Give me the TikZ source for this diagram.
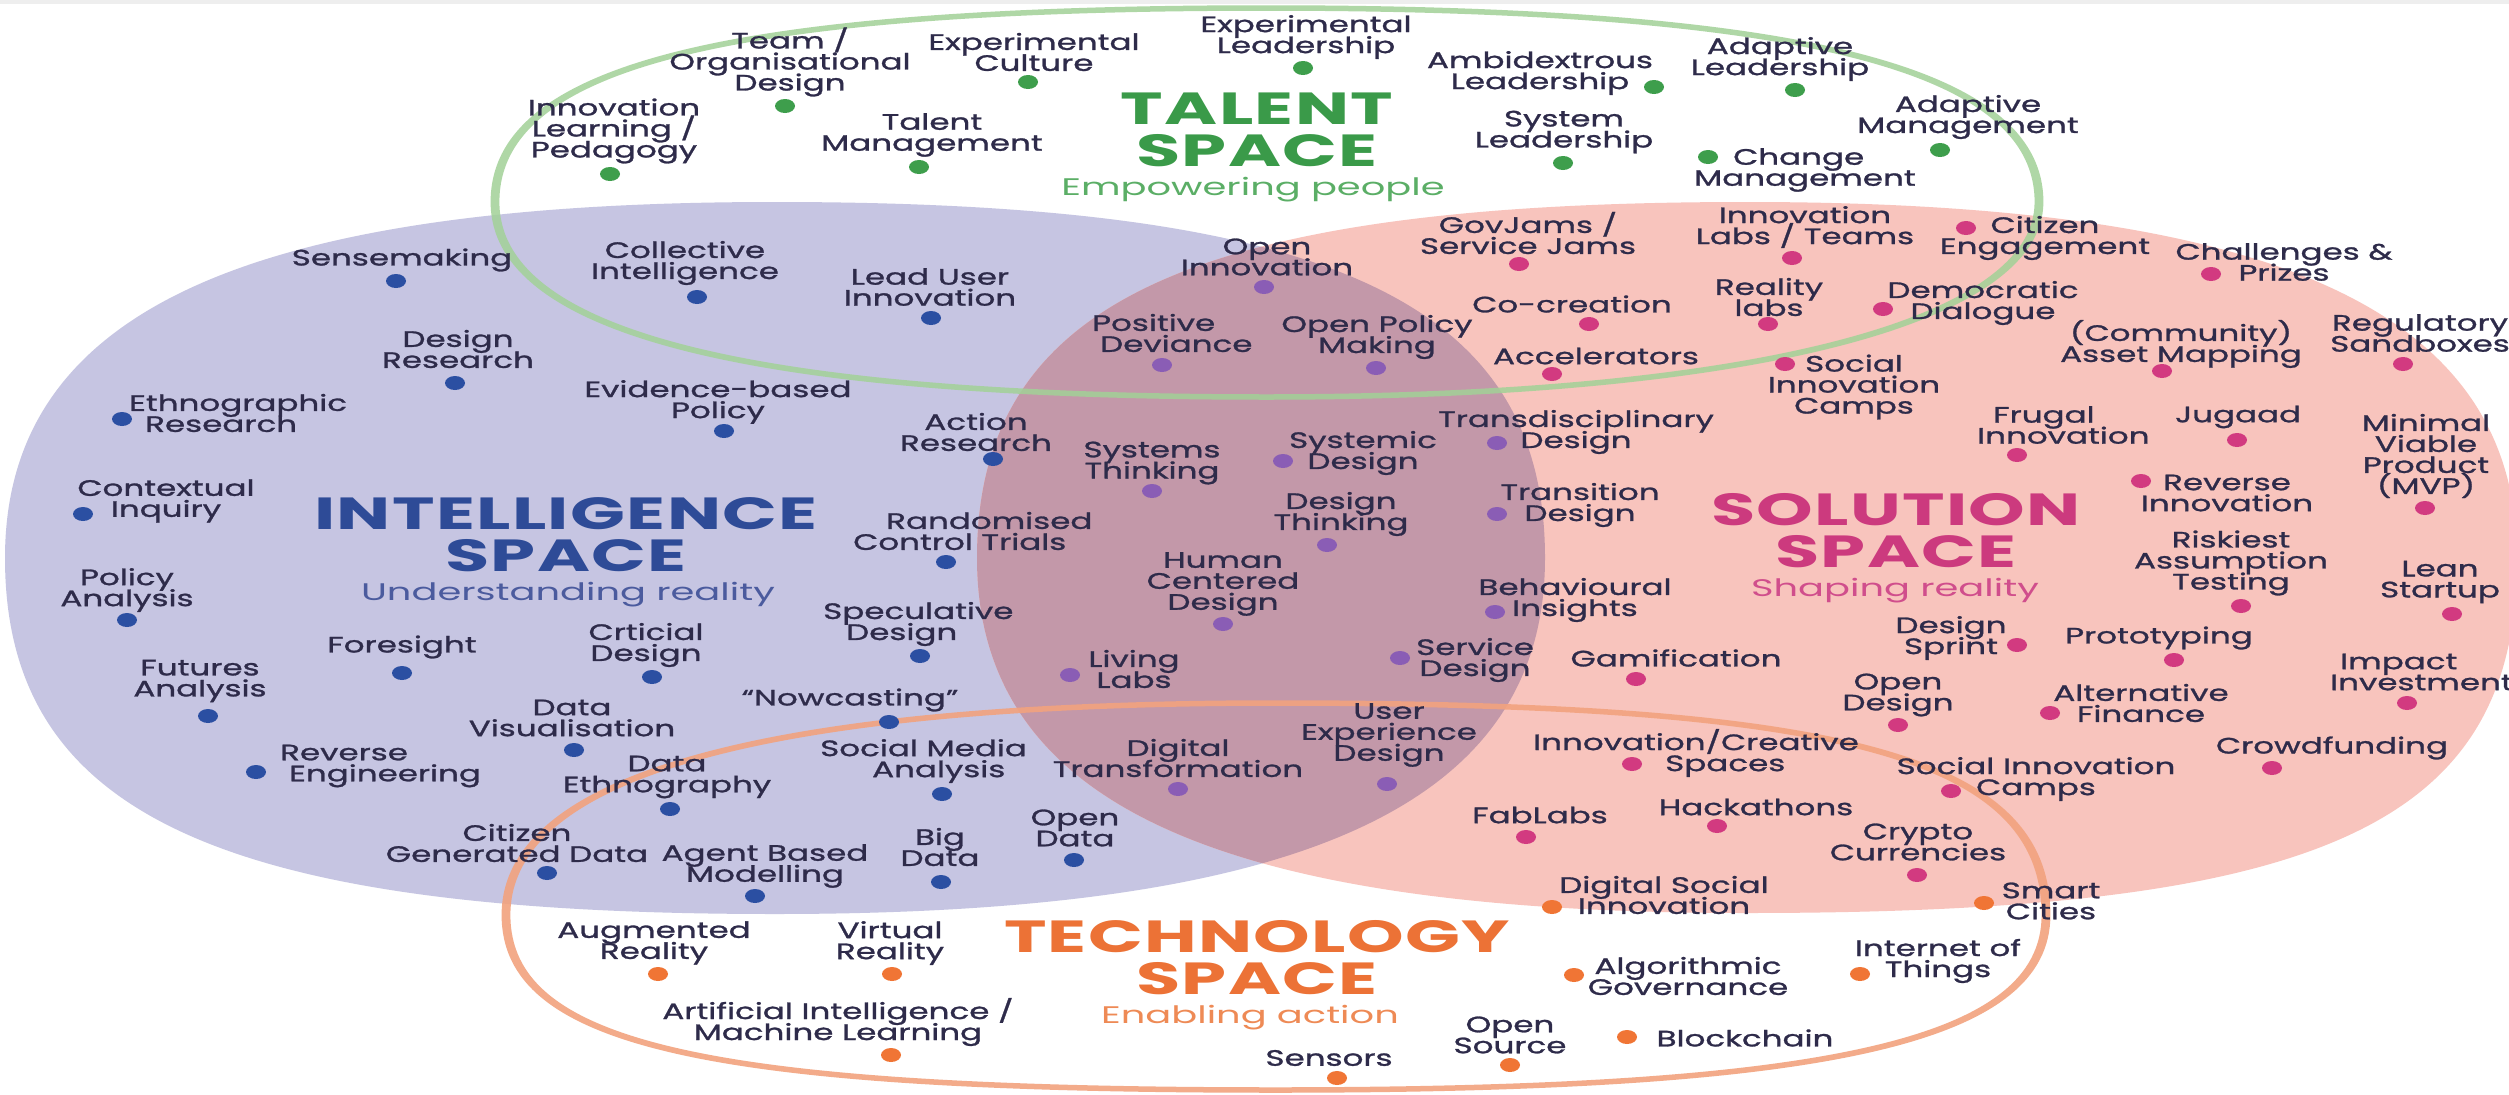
\documentclass[tikz,border=0pt]{standalone}
\usepackage{fontspec}
\newfontfamily\labfont{Poppins}[FakeStretch=1.46, FakeBold=1.2]
\newfontfamily\ttlfont{Poppins}[FakeStretch=1.6, LetterSpace=3]
\newfontfamily\subfont{Poppins}[FakeStretch=1.6]
\usetikzlibrary{shapes.geometric}
\definecolor{txt}{HTML}{2E2B4A}
\definecolor{lavfill}{HTML}{C6C5E2}
\definecolor{pinkfill}{HTML}{F8C4BD}
\definecolor{ovfill}{HTML}{C398A9}
\definecolor{gline}{HTML}{A2D197}
\definecolor{oline}{HTML}{F2A27E}
\definecolor{dblue}{HTML}{2B4FA2}
\definecolor{dgreen}{HTML}{3E9E4C}
\definecolor{dmag}{HTML}{D23A80}
\definecolor{dpurp}{HTML}{8A5DB5}
\definecolor{dorange}{HTML}{F07535}
\definecolor{cblue}{HTML}{2E4B97}
\definecolor{cgreen}{HTML}{3A9A49}
\definecolor{cmag}{HTML}{CC3A7E}
\definecolor{corange}{HTML}{EC7236}
\definecolor{sblue}{HTML}{4B5B9E}
\definecolor{sgreen}{HTML}{5BAE66}
\definecolor{smag}{HTML}{D04E8C}
\definecolor{sorange}{HTML}{EE8A55}
\definecolor{topband}{HTML}{EEEEEE}
\tikzset{
  blob/.style n args={9}{insert path={
    (#1+#3,#2) .. controls (#1+#3,#2+#8*#5) and (#1+#8*#3,#2+#5) .. (#1,#2+#5)
    .. controls (#1-#9*#3,#2+#5) and (#1-#3,#2+#9*#5) .. (#1-#3,#2)
    .. controls (#1-#3,#2-#6*#4) and (#1-#6*#3,#2-#4) .. (#1,#2-#4)
    .. controls (#1+#7*#3,#2-#4) and (#1+#3,#2-#7*#4) .. cycle}},
  lab/.style={font=\labfont\fontsize{22.3}{21}\selectfont, text=txt, inner sep=0pt, align=center},
  labl/.style={lab, align=left, anchor=west},
  ttl/.style={font=\ttlfont\bfseries\fontsize{45}{42}\selectfont, inner sep=0pt, align=center},
  sub/.style={font=\subfont\fontsize{24}{24}\selectfont, inner sep=0pt},
  dot/.style={ellipse, minimum width=20pt, minimum height=14pt, inner sep=0pt, draw=none},
  bd/.style={dot, fill=dblue},
  gd/.style={dot, fill=dgreen},
  md/.style={dot, fill=dmag},
  pd/.style={dot, fill=dpurp},
  od/.style={dot, fill=dorange},
}
\begin{document}
\lineskiplimit=-30pt
\begin{tikzpicture}[x=1pt,y=-1pt]
\useasboundingbox (0,0) rectangle (2509,1095);
\fill[white] (0,0) rectangle (2509,1095);
\fill[topband] (0,0) rectangle (2509,4);
% regions
\fill[lavfill, blob={775}{558}{770}{356}{356}{0.69}{0.72}{0.69}{0.72}];
\fill[pinkfill, blob={1747}{558}{770}{356}{355}{0.72}{0.69}{0.75}{0.69}];
\begin{scope}
  \clip[blob={775}{558}{770}{356}{356}{0.69}{0.72}{0.69}{0.72}];
  \fill[ovfill, blob={1747}{558}{770}{356}{355}{0.72}{0.69}{0.75}{0.69}];
\end{scope}
\begin{scope}[transform canvas={xscale=1.6}]
  \draw[gline, line width=5.5pt, draw opacity=0.85, blob={1267/1.6}{202}{772/1.6}{194}{195}{0.70}{0.69}{0.62}{0.67}];
  \draw[oline, line width=5.5pt, draw opacity=0.9, blob={1276/1.6}{915}{770/1.6}{212}{175}{0.66}{0.74}{0.72}{0.74}];
\end{scope}
% titles
\node[ttl, text=cgreen] (talT) at (1257,130) {TALENT\\SPACE};
\node[sub, text=sgreen] (talS) at (1253,190) {Empowering people};
\node[ttl, text=cblue] (intT) at (566,535) {INTELLIGENCE\\SPACE};
\node[sub, text=sblue] (intS) at (568,595) {Understanding reality};
\node[ttl, text=cmag] (solT) at (1896,531) {SOLUTION\\SPACE};
\node[sub, text=smag] (solS) at (1895,591) {Shaping reality};
\node[ttl, text=corange] (tecT) at (1257,958) {TECHNOLOGY\\SPACE};
\node[sub, text=sorange] (tecS) at (1250,1018) {Enabling action};
% talent
\node[lab] (t1) at (790,62) {Team /\\Organisational\\Design}; \node[gd] (t1d) at (785,106) {};
\node[lab] (t2) at (1034,52) {Experimental\\Culture}; \node[gd] (t2d) at (1028,82) {};
\node[lab] (t3) at (1306,37) {Experimental\\Leadership}; \node[gd] (t3d) at (1303,68) {};
\node[lab] (t4) at (1540,73) {Ambidextrous\\Leadership}; \node[gd] (t4d) at (1654,87) {};
\node[lab] (t5) at (1780,59) {Adaptive\\Leadership}; \node[gd] (t5d) at (1795,90) {};
\node[lab] (t6) at (1968,117) {Adaptive\\Management}; \node[gd] (t6d) at (1940,150) {};
\node[labl] (t7) at (1694,170) {\hspace*{39pt}Change\\Management}; \node[gd] (t7d) at (1708,157) {};
\node[lab] (t8) at (1564,132) {System\\Leadership}; \node[gd] (t8d) at (1563,163) {};
\node[lab] (t9) at (932,135) {Talent\\Management}; \node[gd] (t9d) at (919,167) {};
\node[lab] (t10) at (614,131) {Innovation\\Learning /\\Pedagogy}; \node[gd] (t10d) at (610,174) {};
% intelligence
\node[lab] (i1) at (402,260) {Sensemaking}; \node[bd] (i1d) at (396,281) {};
\node[lab] (i2) at (685,263) {Collective\\Intelligence}; \node[bd] (i2d) at (697,297) {};
\node[lab] (i3) at (458,349) {Design\\Research}; \node[bd] (i3d) at (455,383) {};
\node[labl] (i4) at (129,413) {Ethnographic\\\hspace*{16pt}Research}; \node[bd] (i4d) at (122,419) {};
\node[lab] (i5) at (718,402) {Evidence-based\\Policy}; \node[bd] (i5d) at (724,431) {};
\node[lab] (i6) at (166,501) {Contextual\\Inquiry}; \node[bd] (i6d) at (83,514) {};
\node[lab] (i7) at (127,590) {Policy\\Analysis}; \node[bd] (i7d) at (127,620) {};
\node[lab] (i8) at (402,647) {Foresight}; \node[bd] (i8d) at (402,673) {};
\node[lab] (i9) at (646,645) {Crticial\\Design}; \node[bd] (i9d) at (652,677) {};
\node[lab] (i10) at (200,681) {Futures\\Analysis}; \node[bd] (i10d) at (208,716) {};
\node[lab] (i11) at (572,718) {Data\\Visualisation}; \node[bd] (i11d) at (574,750) {};
\node[lab] (i12) at (850,700) {“Nowcasting”}; \node[bd] (i12d) at (889,722) {};
\node[labl] (i13) at (280,766) {Reverse\\\hspace*{9pt}Engineering}; \node[bd] (i13d) at (256,772) {};
\node[lab] (i14) at (667,777) {Data\\Ethnography}; \node[bd] (i14d) at (670,809) {};
\node[lab] (i15) at (517,843) {Citizen\\Generated Data}; \node[bd] (i15d) at (547,873) {};
\node[lab] (i16) at (765,866) {Agent Based\\Modelling}; \node[bd] (i16d) at (755,896) {};
\node[labl] (i17) at (820,761) {Social Media\\\hspace*{52pt}Analysis}; \node[bd] (i17d) at (942,794) {};
\node[lab] (i18) at (940,847) {Big\\Data}; \node[bd] (i18d) at (941,882) {};
\node[lab] (i19) at (1075,828) {Open\\Data}; \node[bd] (i19d) at (1074,860) {};
\node[lab] (i20) at (976,432) {Action\\Research}; \node[bd] (i20d) at (993,459) {};
\node[labl] (i21) at (853,531) {\hspace*{33pt}Randomised\\Control Trials}; \node[bd] (i21d) at (946,562) {};
\node[labl] (i22) at (823,624) {Speculative\\\hspace*{23pt}Design}; \node[bd] (i22d) at (920,656) {};
\node[lab] (i23) at (930,287) {Lead User\\Innovation}; \node[bd] (i23d) at (931,318) {};
% overlap
\node[lab] (o1) at (1267,257) {Open\\Innovation}; \node[pd] (o1d) at (1264,287) {};
\node[labl] (o2) at (1092,333) {Positive\\\hspace*{8pt}Deviance}; \node[pd] (o2d) at (1162,365) {};
\node[lab] (o3) at (1377,337) {Open Policy\\Making}; \node[pd] (o3d) at (1376,368) {};
\node[lab] (o4) at (1152,463) {Systems\\Thinking}; \node[pd] (o4d) at (1152,491) {};
\node[lab] (o5) at (1363,453) {Systemic\\Design}; \node[pd] (o5d) at (1283,461) {};
\node[lab] (o6) at (1341,514) {Design\\Thinking}; \node[pd] (o6d) at (1327,545) {};
\node[lab] (o7) at (1223,584) {Human\\Centered\\Design}; \node[pd] (o7d) at (1223,624) {};
\node[lab] (o8) at (1576,432) {Transdisciplinary\\Design}; \node[pd] (o8d) at (1497,443) {};
\node[lab] (o9) at (1580,505) {Transition\\Design}; \node[pd] (o9d) at (1497,514) {};
\node[lab] (o10) at (1575,600) {Behavioural\\Insights}; \node[pd] (o10d) at (1495,612) {};
\node[lab] (o11) at (1475,660) {Service\\Design}; \node[pd] (o11d) at (1400,658) {};
\node[lab] (o12) at (1134,669) {Living\\Labs}; \node[pd] (o12d) at (1070,675) {};
\node[lab] (o13) at (1178,758) {Digital\\Transformation}; \node[pd] (o13d) at (1178,789) {};
\node[lab] (o14) at (1389,735) {User\\Experience\\Design}; \node[pd] (o14d) at (1387,784) {};
% solution
\node[lab] (s1) at (1528,233) {GovJams /\\Service Jams}; \node[md] (s1d) at (1519,264) {};
\node[lab] (s2) at (1572,304) {Co-creation}; \node[md] (s2d) at (1589,324) {};
\node[lab] (s3) at (1596,356) {Accelerators}; \node[md] (s3d) at (1552,374) {};
\node[lab] (s4) at (1805,227) {Innovation\\Labs / Teams}; \node[md] (s4d) at (1792,258) {};
\node[lab] (s5) at (2045,238) {Citizen\\Engagement}; \node[md] (s5d) at (1966,228) {};
\node[lab] (s6) at (2284,262) {Challenges \&\\Prizes}; \node[md] (s6d) at (2211,274) {};
\node[lab] (s7) at (1769,297) {Reality\\labs}; \node[md] (s7d) at (1768,324) {};
\node[lab] (s8) at (1983,303) {Democratic\\Dialogue}; \node[md] (s8d) at (1883,309) {};
\node[lab] (s9) at (2181,344) {(Community)\\Asset Mapping}; \node[md] (s9d) at (2162,371) {};
\node[lab] (s10) at (2420,333) {Regulatory\\Sandboxes}; \node[md] (s10d) at (2403,364) {};
\node[lab] (s11) at (1854,387) {Social\\Innovation\\Camps}; \node[md] (s11d) at (1785,364) {};
\node[labl] (s12) at (1977,425) {\hspace*{16pt}Frugal\\Innovation}; \node[md] (s12d) at (2017,455) {};
\node[lab] (s13) at (2238,417) {Jugaad}; \node[md] (s13d) at (2237,440) {};
\node[lab] (s14) at (2426,456) {Minimal\\Viable\\Product\\(MVP)}; \node[md] (s14d) at (2425,508) {};
\node[lab] (s15) at (2227,493) {Reverse\\Innovation}; \node[md] (s15d) at (2141,481) {};
\node[lab] (s16) at (2231,563) {Riskiest\\Assumption\\Testing}; \node[md] (s16d) at (2241,606) {};
\node[lab] (s17) at (2440,582) {Lean\\Startup}; \node[md] (s17d) at (2452,614) {};
\node[lab] (s18) at (1951,638) {Design\\Sprint}; \node[md] (s18d) at (2017,645) {};
\node[lab] (s19) at (2159,638) {Prototyping}; \node[md] (s19d) at (2174,660) {};
\node[labl] (s20) at (2330,672) {\hspace*{10pt}Impact\\Investment}; \node[md] (s20d) at (2407,703) {};
\node[lab] (s21) at (1898,695) {Open\\Design}; \node[md] (s21d) at (1898,725) {};
\node[lab] (s22) at (2141,703) {Alternative\\Finance}; \node[md] (s22d) at (2050,713) {};
\node[lab] (s23) at (1676,658) {Gamification}; \node[md] (s23d) at (1636,679) {};
\node[lab] (s24) at (2332,748) {Crowdfunding}; \node[md] (s24d) at (2272,768) {};
\node[lab] (s25) at (2036,779) {Social Innovation\\Camps}; \node[md] (s25d) at (1951,791) {};
\node[labl] (s26) at (1533,753) {Innovation/Creative\\\hspace*{132pt}Spaces}; \node[md] (s26d) at (1632,764) {};
\node[lab] (s27) at (1540,815) {FabLabs}; \node[md] (s27d) at (1526,837) {};
\node[lab] (s28) at (1756,807) {Hackathons}; \node[md] (s28d) at (1717,826) {};
\node[lab] (s29) at (1918,842) {Crypto\\Currencies}; \node[md] (s29d) at (1917,875) {};
% technology
\node[lab] (e1) at (1664,895) {Digital Social\\Innovation}; \node[od] (e1d) at (1552,907) {};
\node[lab] (e2) at (2051,901) {Smart\\Cities}; \node[od] (e2d) at (1984,903) {};
\node[lab] (e3) at (1938,961) {Internet of\\Things}; \node[od] (e3d) at (1860,974) {};
\node[lab] (e4) at (1688,976) {Algorithmic\\Governance}; \node[od] (e4d) at (1574,975) {};
\node[lab] (e5) at (1745,1038) {Blockchain}; \node[od] (e5d) at (1627,1037) {};
\node[lab] (e6) at (1510,1035) {Open\\Source}; \node[od] (e6d) at (1510,1065) {};
\node[lab] (e7) at (1329,1058) {Sensors}; \node[od] (e7d) at (1337,1078) {};
\node[lab] (e8) at (890,943) {Virtual\\Reality}; \node[od] (e8d) at (892,974) {};
\node[lab] (e9) at (654,943) {Augmented\\Reality}; \node[od] (e9d) at (658,974) {};
\node[lab] (e10) at (838,1022) {Artificial Intelligence /\\Machine Learning}; \node[od] (e10d) at (891,1055) {};
\end{tikzpicture}
\end{document}
